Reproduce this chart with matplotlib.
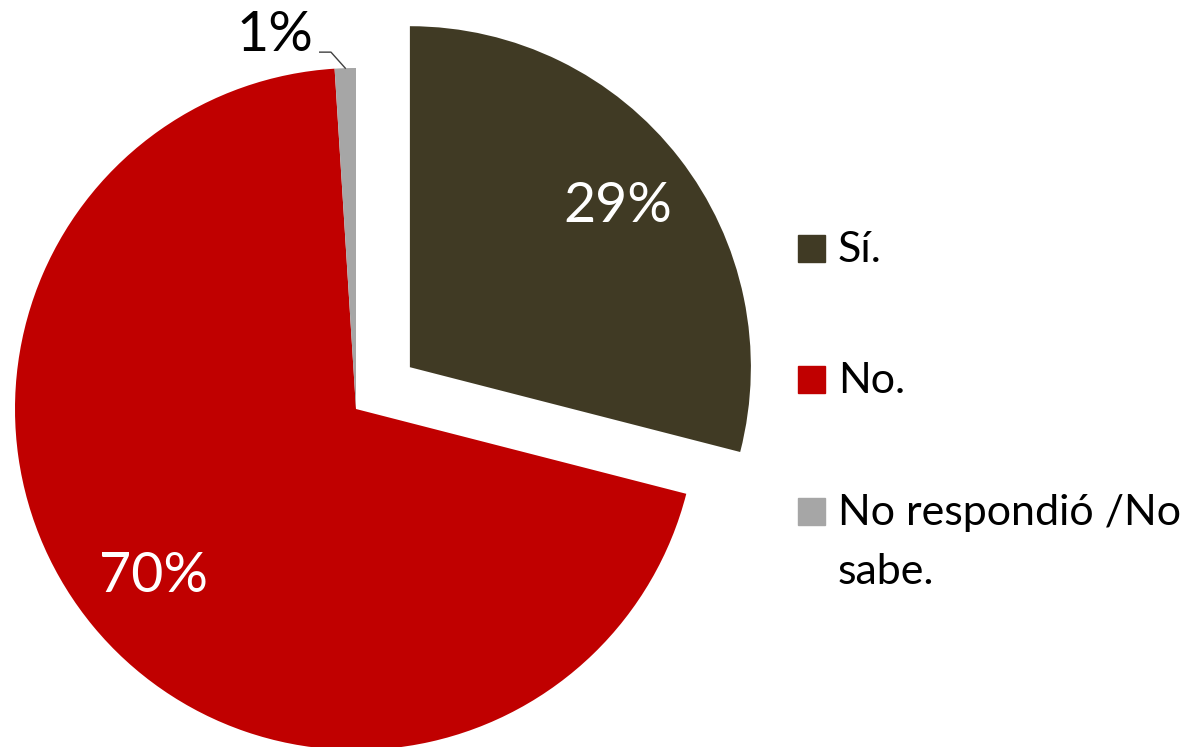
import numpy as np
import matplotlib as mpl; mpl.use('Agg')
import matplotlib.pyplot as plt
from matplotlib.patches import Rectangle

plt.rcParams.update({'font.family': ['Lato', 'DejaVu Sans']})

labels = ['Sí.', 'No.', 'No respondió /No\nsabe.']
values = [29, 70, 1]
colors = ['#403A24', '#C00000', '#A6A6A6']
explode = [0.2, 0, 0]

W, H = 1190, 747
fig = plt.figure(figsize=(W / 100, H / 100), dpi=100)
ax = fig.add_axes([0, 0, 1, 1])

# pie centre at px (356, 409), radius 341 px
cx, cy, R = 356, 409, 341
wedges, texts, pct = ax.pie(values, colors=colors, explode=explode, startangle=90,
                            counterclock=False, autopct='%1.0f%%', pctdistance=0.77,
                            textprops={'color': 'white', 'fontsize': 40},
                            wedgeprops={'linewidth': 0})
ax.set_xlim(-cx / R, (W - cx) / R)
ax.set_ylim(-(H - cy) / R, cy / R)
ax.set_aspect('equal')
ax.axis('off')

# small slice: label outside with leader line
w = wedges[2]
mid = np.deg2rad((w.theta1 + w.theta2) / 2)
ex, ey = np.cos(mid), np.sin(mid)
ax.plot([ex - 0.075, ex - 0.042, ex], [ey + 0.047, ey + 0.047, ey], color='#404040', lw=1)
pct[2].set_color('black')
pct[2].set_position((ex - 0.207, ey + 0.097))
pct[2].set_ha('center'); pct[2].set_va('center')

# legend (manual, lines of one label 59 px apart)
baselines = [262, 393, 525]
for lab, col, yb in zip(labels, colors, baselines):
    fig.patches.append(Rectangle((798 / W, 1 - yb / H), 27 / W, 27 / H,
                                 transform=fig.transFigure, color=col))
    for i, line in enumerate(lab.split('\n')):
        fig.text(838 / W, 1 - (yb + 59 * i) / H, line, fontsize=31,
                 va='baseline', ha='left')

plt.savefig('out.png', dpi=100)
